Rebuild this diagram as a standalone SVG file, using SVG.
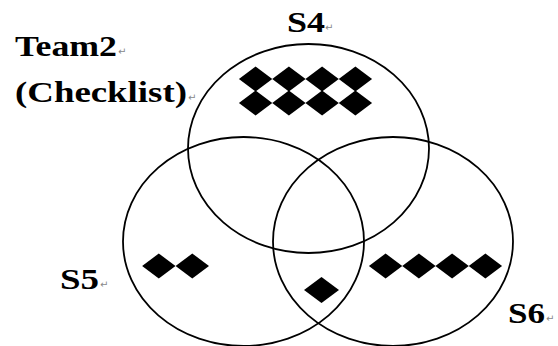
<svg xmlns="http://www.w3.org/2000/svg" xmlns:xlink="http://www.w3.org/1999/xlink" width="558" height="346" viewBox="0 0 558 346">
<style>
.set{fill:none;stroke:#000;stroke-width:1.8}
.lbl{font-family:"Liberation Serif","Times New Roman",serif;font-weight:bold;font-size:30px;fill:#000}
.pm{font-family:"DejaVu Sans",sans-serif;font-size:10px;fill:#888}
</style>
<defs>
<path id="d" d="M-16.7,0 L0,-12.5 L16.7,0 L0,12.5 Z" fill="#000"/>
</defs>
<rect width="558" height="346" fill="#fff"/>
<g id="set-S4">
<ellipse class="set" cx="308.5" cy="148.5" rx="120.5" ry="104.5"/>
<use xlink:href="#d" x="255.6" y="79"/><use xlink:href="#d" x="288.9" y="79"/><use xlink:href="#d" x="322.1" y="79"/><use xlink:href="#d" x="355.4" y="79"/>
<use xlink:href="#d" x="255.6" y="103"/><use xlink:href="#d" x="288.9" y="103"/><use xlink:href="#d" x="322.1" y="103"/><use xlink:href="#d" x="355.4" y="103"/>
</g>
<g id="set-S5">
<ellipse class="set" cx="243.5" cy="241.5" rx="120.5" ry="104.5"/>
<use xlink:href="#d" x="158.8" y="266"/><use xlink:href="#d" x="192.3" y="266"/>
</g>
<g id="set-S6">
<ellipse class="set" cx="393" cy="241.5" rx="120" ry="104.5"/>
<use xlink:href="#d" x="385.6" y="266"/><use xlink:href="#d" x="418.9" y="266"/><use xlink:href="#d" x="452.1" y="266"/><use xlink:href="#d" x="485.4" y="266"/>
</g>
<g id="S5-S6">
<path d="M304,290 L321.5,277 L339,290 L321.5,303 Z" fill="#000"/>
</g>
<g id="title">
<text class="lbl" x="15" y="56" textLength="102" lengthAdjust="spacingAndGlyphs">Team2</text><text class="pm" x="118" y="55">↵</text>
<text class="lbl" x="15" y="102" textLength="172" lengthAdjust="spacingAndGlyphs">(Checklist)</text><text class="pm" x="188" y="101">↵</text>
</g>
<g id="label-S4"><text class="lbl" x="287" y="32" textLength="38" lengthAdjust="spacingAndGlyphs">S4</text><text class="pm" x="325" y="31">↵</text></g>
<g id="label-S5"><text class="lbl" x="60" y="289" textLength="39" lengthAdjust="spacingAndGlyphs">S5</text><text class="pm" x="100" y="288">↵</text></g>
<g id="label-S6"><text class="lbl" x="508" y="323" textLength="37" lengthAdjust="spacingAndGlyphs">S6</text><text class="pm" x="546" y="322">↵</text></g>
</svg>
